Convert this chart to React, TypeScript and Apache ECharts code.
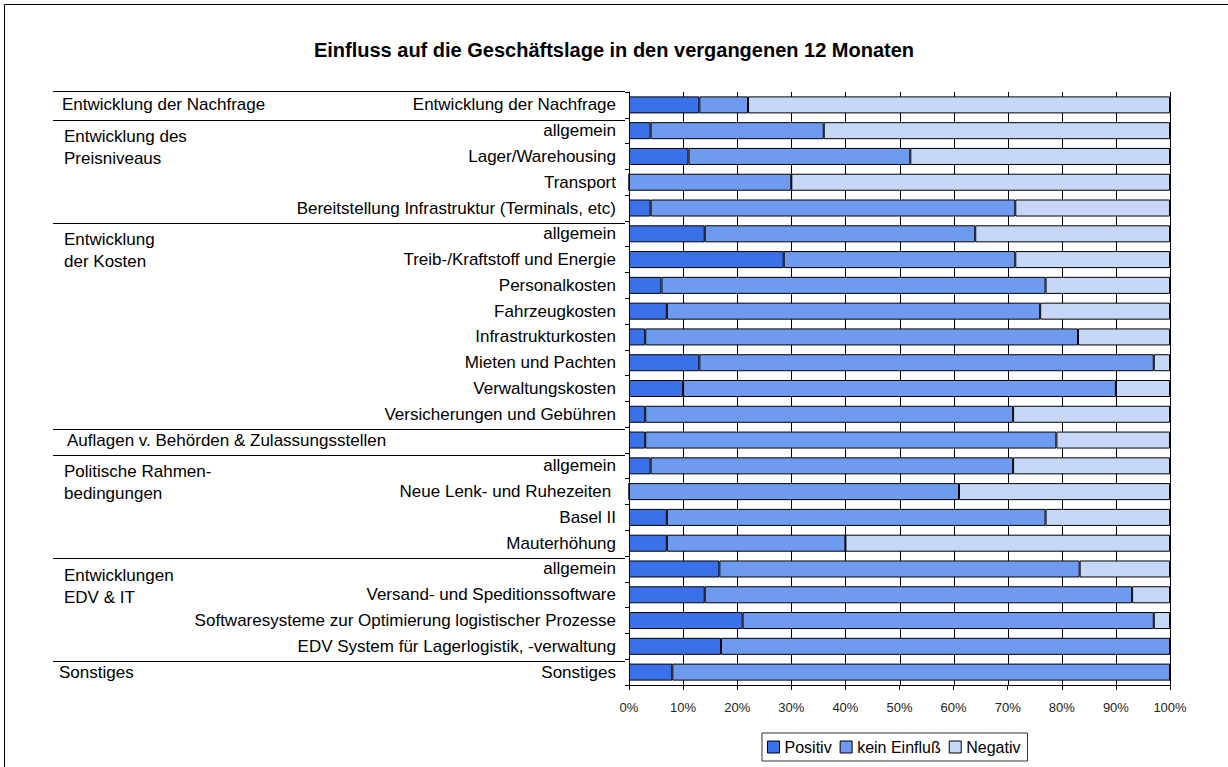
import React, { useEffect, useRef } from "react";
import * as echarts from "echarts";

const categories = [
  "Entwicklung der Nachfrage",
  "allgemein",
  "Lager/Warehousing",
  "Transport",
  "Bereitstellung Infrastruktur (Terminals, etc)",
  "allgemein",
  "Treib-/Kraftstoff und Energie",
  "Personalkosten",
  "Fahrzeugkosten",
  "Infrastrukturkosten",
  "Mieten und Pachten",
  "Verwaltungskosten",
  "Versicherungen und Gebühren",
  "Auflagen v. Behörden & Zulassungsstellen",
  "allgemein",
  "Neue Lenk- und Ruhezeiten ",
  "Basel II",
  "Mauterhöhung",
  "allgemein",
  "Versand- und Speditionssoftware",
  "Softwaresysteme zur Optimierung logistischer Prozesse",
  "EDV System für Lagerlogistik, -verwaltung",
  "Sonstiges",
];

const positiv = [13, 4, 11, 0, 4, 14, 28.6, 6, 7, 3, 13, 10, 3, 3, 4, 0, 7, 7, 16.7, 14, 21, 17, 8];
const keinEinfluss = [9, 32, 41, 30, 67.4, 50, 42.8, 71, 69, 80, 84, 80, 68, 76, 67, 61, 70, 33, 66.6, 79, 76, 83, 92];
const negativ = [78, 64, 48, 70, 28.6, 36, 28.6, 23, 24, 17, 3, 10, 29, 21, 29, 39, 23, 60, 16.7, 7, 3, 0, 0];

const xTicks = [0, 10, 20, 30, 40, 50, 60, 70, 80, 90, 100];

const groups = [
  { lines: ["Entwicklung der Nachfrage"], start: 0, end: 0, x: 62 },
  { lines: ["Entwicklung des", "Preisniveaus"], start: 1, end: 4, x: 64 },
  { lines: ["Entwicklung", "der Kosten"], start: 5, end: 12, x: 64 },
  { lines: ["Auflagen v. Behörden & Zulassungsstellen"], start: 13, end: 13, x: 67 },
  { lines: ["Politische Rahmen-", "bedingungen"], start: 14, end: 17, x: 64 },
  { lines: ["Entwicklungen", "EDV & IT"], start: 18, end: 21, x: 64 },
  { lines: ["Sonstiges"], start: 22, end: 22, x: 59 },
];
const hiddenLabels = [13];

const FONT = "'Liberation Sans', Arial, sans-serif";
const LABEL_SIZE = 17;
const C_POS = "#3a70e8";
const C_KEIN = "#6e9aef";
const C_NEG = "#c6d7f8";

export default function App() {
  const ref = useRef<HTMLDivElement>(null);
  useEffect(() => {
    if (!ref.current) return;
    const chart = echarts.init(ref.current, null, { renderer: "svg" });
    const barStyle = (c: string) => ({ color: c, borderColor: "#000", borderWidth: 1 });
    chart.setOption({
      animation: false,
      textStyle: { fontFamily: FONT },
      title: {
        text: "Einfluss auf die Geschäftslage in den vergangenen 12 Monaten",
        left: "center",
        top: 35,
        textStyle: { fontSize: 20, fontWeight: "bold", color: "#000", fontFamily: FONT },
      },
      legend: {
        data: ["Positiv", "kein Einfluß", "Negativ"],
        left: 762,
        top: 733,
        padding: [6, 7, 6, 5],
        itemGap: 8,
        itemWidth: 12,
        itemHeight: 12,
        icon: "rect",
        borderColor: "#333",
        borderWidth: 1,
        itemStyle: { borderColor: "#000", borderWidth: 1 },
        textStyle: { fontSize: 16, color: "#000", fontFamily: FONT },
      },
      grid: { left: 629, right: 58, top: 92, bottom: 82, containLabel: false },
      xAxis: {
        type: "value",
        min: xTicks[0],
        max: xTicks[xTicks.length - 1],
        interval: 10,
        axisLine: { show: true, lineStyle: { color: "#000", width: 1 } },
        axisTick: { show: true, length: 5, lineStyle: { color: "#000" } },
        splitLine: { show: false },
        axisLabel: { formatter: "{value}%", fontSize: 13, color: "#222", margin: 16, fontFamily: FONT },
      },
      yAxis: {
        type: "category",
        inverse: true,
        data: categories,
        axisLine: { show: true, lineStyle: { color: "#000", width: 1 } },
        axisTick: { show: true, length: 4, lineStyle: { color: "#000" } },
        splitLine: { show: false },
        axisLabel: {
          fontSize: LABEL_SIZE,
          color: "#000",
          margin: 13,
          fontFamily: FONT,
          formatter: (v: string, i: number) => (hiddenLabels.includes(i) ? "" : v),
        },
      },
      series: [
        { name: "Positiv", type: "bar", stack: "t", data: positiv, barCategoryGap: "34%", itemStyle: barStyle(C_POS) },
        { name: "kein Einfluß", type: "bar", stack: "t", data: keinEinfluss, barCategoryGap: "34%", itemStyle: barStyle(C_KEIN) },
        { name: "Negativ", type: "bar", stack: "t", data: negativ, barCategoryGap: "34%", itemStyle: barStyle(C_NEG) },
      ],
    });

    const yc = (i: number) => chart.convertToPixel({ yAxisIndex: 0 }, i) as number;
    const xc = (v: number) => chart.convertToPixel({ xAxisIndex: 0 }, v) as number;
    const band = yc(1) - yc(0);
    const plotTop = yc(0) - band / 2;
    const plotBottom = yc(categories.length - 1) + band / 2;
    const els: any[] = [
      {
        type: "rect",
        shape: { x: 4.5, y: 4.5, width: 1260, height: 800 },
        style: { fill: "none", stroke: "#000", lineWidth: 1 },
        silent: true,
      },
    ];
    // vertical gridlines behind bars
    xTicks.forEach((t) => {
      const x = Math.round(xc(t)) + 0.5;
      els.push({
        type: "line",
        z: -1,
        shape: { x1: x, y1: plotTop, x2: x, y2: plotBottom },
        style: { stroke: "#000", lineWidth: 1 },
        silent: true,
      });
    });
    groups.forEach((g, gi) => {
      const top = yc(g.start) - band / 2;
      const lineY = Math.round(gi === 0 ? top - 1 : top + 2) + 0.5;
      els.push({
        type: "line",
        shape: { x1: 53, y1: lineY, x2: 625, y2: lineY },
        style: { stroke: "#000", lineWidth: 1 },
        silent: true,
      });
      if (g.lines.length === 1) {
        els.push({
          type: "text",
          x: g.x,
          y: yc(g.start),
          style: { text: g.lines[0], fontSize: LABEL_SIZE, fontFamily: FONT, fill: "#000", verticalAlign: "middle" },
          silent: true,
        });
      } else {
        g.lines.forEach((t, li) => {
          els.push({
            type: "text",
            x: g.x,
            y: top + 19 + li * 22,
            style: { text: t, fontSize: LABEL_SIZE, fontFamily: FONT, fill: "#000", verticalAlign: "middle" },
            silent: true,
          });
        });
      }
    });
    chart.setOption({ graphic: { elements: els } });
    return () => chart.dispose();
  }, []);
  return (
    <div
      ref={ref}
      style={{ position: "fixed", left: 0, top: 0, width: 1228, height: 767, background: "#fff" }}
    />
  );
}
